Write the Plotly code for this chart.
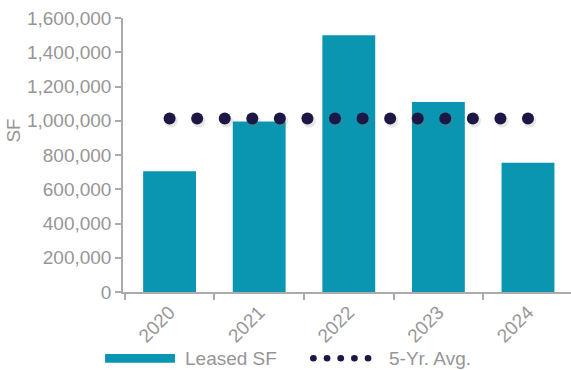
import numpy as np
import plotly.graph_objects as go

# Annual leasing volume (square feet)
years = [2020, 2021, 2022, 2023, 2024]
leased_sf = [705000, 995000, 1500000, 1110000, 755000]
five_yr_avg = 1013000
y_ticks = [0, 200000, 400000, 600000, 800000, 1000000, 1200000, 1400000, 1600000]

TEAL = "#0a95b0"
NAVY = "#1c1745"
GREY = "#969696"
AXIS = "#ababab"
FONT = "Liberation Sans, Arial, sans-serif"
FS = 19

n_dots = 14
dot_x = np.linspace(years[0], years[-1], n_dots)

fig = go.Figure()
fig.add_trace(go.Bar(
    x=years, y=leased_sf, width=0.59,
    marker=dict(color=TEAL, line=dict(width=0)),
    name="Leased SF", showlegend=False,
))
# soft shadow under the average dots
fig.add_trace(go.Scatter(
    x=dot_x + 0.02, y=[five_yr_avg - 15000] * n_dots, mode="markers",
    marker=dict(size=13, color="rgba(120,120,120,0.18)"),
    hoverinfo="skip", showlegend=False,
))
fig.add_trace(go.Scatter(
    x=dot_x, y=[five_yr_avg] * n_dots, mode="markers",
    marker=dict(size=12, color=NAVY),
    name="5-Yr. Avg.", showlegend=False,
))

fig.update_layout(
    width=571, height=370,
    margin=dict(l=123, r=0, t=18, b=78),
    paper_bgcolor="white", plot_bgcolor="white",
    font=dict(family=FONT, size=FS, color=GREY),
    showlegend=False,
    xaxis=dict(
        range=[2019.48, 2024.48], tickvals=years, ticktext=[str(y) for y in years],
        tickangle=-45, showgrid=False, zeroline=False,
        showline=True, linecolor=AXIS, linewidth=1.5,
        ticks="", tickfont=dict(size=FS, color=GREY),
        minor=dict(tick0=2019.5, dtick=1, ticks="outside", ticklen=6,
                   tickcolor=AXIS, tickwidth=1.5, showgrid=False),
    ),
    yaxis=dict(
        range=[0, 1600000], tickvals=y_ticks,
        ticktext=[f"{v:,}" for v in y_ticks],
        showgrid=False, zeroline=False,
        showline=True, linecolor=AXIS, linewidth=1.5,
        ticks="outside", ticklen=6, tickcolor=AXIS, tickwidth=1.5,
        tickfont=dict(size=FS, color=GREY),
    ),
)

# axis title
fig.add_annotation(
    text="SF", xref="paper", yref="paper", x=-0.245, y=0.59,
    xanchor="center", yanchor="middle",
    textangle=-90, showarrow=False, font=dict(size=FS, color=GREY),
)

# legend
fig.add_shape(type="rect", xref="paper", yref="paper",
              x0=-0.04, x1=0.116, y0=-0.258, y1=-0.226,
              fillcolor=TEAL, line=dict(width=0))
fig.add_annotation(text="Leased SF", xref="paper", yref="paper",
                   x=0.134, y=-0.242, xanchor="left", yanchor="middle",
                   showarrow=False, font=dict(size=FS, color=GREY))
for i in range(5):
    cx = 0.425 + i * 0.0305
    fig.add_shape(type="circle", xref="paper", yref="paper",
                  x0=cx - 0.0075, x1=cx + 0.0075, y0=-0.254, y1=-0.23,
                  fillcolor=NAVY, line=dict(width=0))
fig.add_annotation(text="5-Yr. Avg.", xref="paper", yref="paper",
                   x=0.589, y=-0.242, xanchor="left", yanchor="middle",
                   showarrow=False, font=dict(size=FS, color=GREY))

fig.write_html("out.html")
